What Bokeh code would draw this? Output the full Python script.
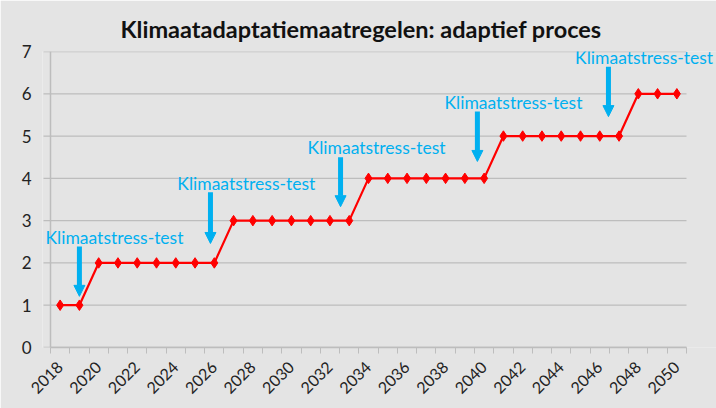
import math
from bokeh.plotting import figure
from bokeh.models import FixedTicker, Arrow, NormalHead, Label
from bokeh.embed import file_html
from bokeh.resources import INLINE

# ---- data ----
years = list(range(2018, 2051))
levels = [1, 1,
          2, 2, 2, 2, 2, 2, 2,
          3, 3, 3, 3, 3, 3, 3,
          4, 4, 4, 4, 4, 4, 4,
          5, 5, 5, 5, 5, 5, 5,
          6, 6, 6]
year_labels = list(range(2018, 2051, 2))
y_ticks = [0, 1, 2, 3, 4, 5, 6, 7]

# stress-test annotations (data coordinates)
test_label = "Klimaatstress-test"
arrow_x = [2019.0, 2025.8, 2032.55, 2039.65, 2046.45]
arrow_top = [2.39, 3.67, 4.50, 5.58, 6.64]
arrow_tip = [1.21, 2.46, 3.33, 4.40, 5.46]
label_x = [2020.82, 2027.66, 2034.42, 2041.52, 2048.3]
label_y = [2.61, 3.88, 4.73, 5.80, 6.86]

BG = "#E4E4E4"
BLUE = "#00B0F0"
GRID = "#BDBDBD"
TXT = "#222222"

x_lo, x_hi = years[0] - 0.5, years[-1] + 0.5
ppu = 636.0 / len(years)          # pixels per category
pad_left_px, frame_px, tick_px = 8.0, 674.0, 7.0
x_start = x_lo - pad_left_px / ppu
x_end = x_start + frame_px / ppu
x_tick0 = x_lo - tick_px / ppu

p = figure(width=716, height=408, output_backend="svg", toolbar_location=None,
           x_range=(x_start, x_end), y_range=(0, 7),
           title="Klimaatadaptatiemaatregelen: adaptief proces",
           min_border_left=42, min_border_right=0, min_border_top=51, min_border_bottom=61)
p.background_fill_color = BG
p.border_fill_color = BG
p.outline_line_color = None

p.title.align = "left"
p.title.offset = 78
p.title.text_font = "Lato"
p.title.text_font_size = "23.5px"
p.title.text_font_style = "bold"
p.title.text_color = "#111111"
p.title.standoff = 18

# x axis
p.xaxis.bounds = (x_lo, x_hi)
p.xaxis.ticker = FixedTicker(ticks=year_labels, minor_ticks=[y - 0.5 for y in range(2018, 2052)])
p.xaxis.major_tick_line_color = None
p.xaxis.minor_tick_line_color = GRID
p.xaxis.minor_tick_out = 6
p.xaxis.minor_tick_in = 0
p.xaxis.axis_line_color = GRID
p.xaxis.axis_line_width = 1.5
p.xaxis.major_label_orientation = math.pi / 4
p.xaxis.major_label_text_font = "Lato"
p.xaxis.major_label_text_font_size = "16px"
p.xaxis.major_label_text_color = TXT
p.xaxis.major_label_standoff = 11

# y axis: labels from the axis, line and ticks drawn in the frame
p.yaxis.ticker = FixedTicker(ticks=y_ticks)
p.yaxis.major_tick_line_color = None
p.yaxis.major_tick_out = 0
p.yaxis.major_tick_in = 0
p.yaxis.minor_tick_line_color = None
p.yaxis.axis_line_color = None
p.yaxis.major_label_text_font = "Lato"
p.yaxis.major_label_text_font_size = "17px"
p.yaxis.major_label_text_color = TXT
p.yaxis.major_label_standoff = 11

p.xgrid.grid_line_color = None
p.ygrid.grid_line_color = None

# horizontal gridlines (with their tick stubs) limited to the category span
p.segment(x0=[x_tick0] * len(y_ticks), y0=y_ticks, x1=[x_hi] * len(y_ticks), y1=y_ticks,
          line_color=GRID, line_width=1.3)
# y axis line
p.segment(x0=[x_lo], y0=[y_ticks[0]], x1=[x_lo], y1=[y_ticks[-1]],
          line_color=GRID, line_width=1.5)

# series
p.line(years, levels, line_color="#FF0000", line_width=2.2)
p.scatter(years, levels, marker="diamond", size=10.5, fill_color="#FF0000", line_color="#FF0000")

# arrows
for xa, yt, yb in zip(arrow_x, arrow_top, arrow_tip):
    p.add_layout(Arrow(end=NormalHead(size=11, fill_color=BLUE, line_color=BLUE, line_width=1),
                       x_start=xa, y_start=yt, x_end=xa, y_end=yb,
                       line_color=BLUE, line_width=5))

for lx, ly in zip(label_x, label_y):
    p.add_layout(Label(x=lx, y=ly, text=test_label, text_align="center",
                       text_baseline="middle", text_color=BLUE, text_font="Lato",
                       text_font_size="17.5px"))

open("out.html", "w").write(file_html(p, INLINE))
